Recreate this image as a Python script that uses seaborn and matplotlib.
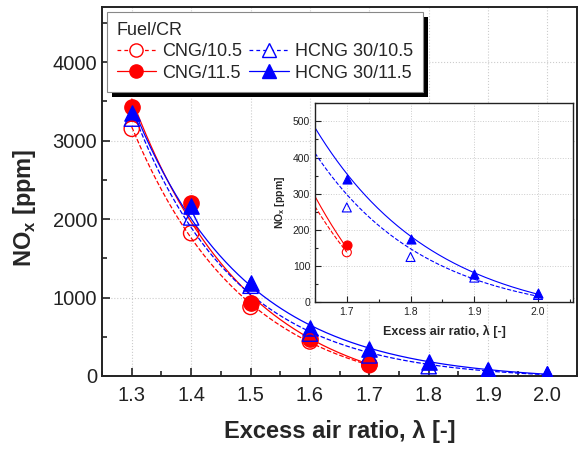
import numpy as np
import pandas as pd
import matplotlib
matplotlib.use("Agg")
import matplotlib.pyplot as plt
import matplotlib.patheffects as pe
from matplotlib.lines import Line2D
from matplotlib.ticker import MultipleLocator
import seaborn as sns

# Excess air ratio (lambda) and measured NOx [ppm]
lam_cng = [1.3, 1.4, 1.5, 1.6, 1.7]
lam_hcng = [1.3, 1.4, 1.5, 1.6, 1.7, 1.8, 1.9, 2.0]
nox_cng_105 = [3150, 1820, 880, 440, 138]
nox_cng_115 = [3430, 2210, 930, 470, 157]
nox_hcng_105 = [3280, 2020, 1150, 540, 262, 125, 68, 20]
nox_hcng_115 = [3350, 2160, 1180, 614, 340, 175, 78, 25]

series_names = ["CNG/10.5", "CNG/11.5", "HCNG 30/10.5", "HCNG 30/11.5"]
x_ticks_main = [1.3, 1.4, 1.5, 1.6, 1.7, 1.8, 1.9, 2.0]
y_ticks_main = [0, 1000, 2000, 3000, 4000]

sns.set_theme(style="ticks")
plt.rcParams["font.family"] = ["Liberation Sans", "DejaVu Sans"]
plt.rcParams["mathtext.fontset"] = "custom"
plt.rcParams["mathtext.rm"] = "Liberation Sans"
plt.rcParams["mathtext.bf"] = "Liberation Sans:bold"

RED = "#ff0000"
BLUE = "#0000ff"

df = pd.concat([
    pd.DataFrame({"lam": lam_cng, "nox": nox_cng_105, "series": series_names[0]}),
    pd.DataFrame({"lam": lam_cng, "nox": nox_cng_115, "series": series_names[1]}),
    pd.DataFrame({"lam": lam_hcng, "nox": nox_hcng_105, "series": series_names[2]}),
    pd.DataFrame({"lam": lam_hcng, "nox": nox_hcng_115, "series": series_names[3]}),
], ignore_index=True)

style = {
    series_names[0]: dict(color=RED, ls="--", marker="o", filled=False),
    series_names[1]: dict(color=RED, ls="-", marker="o", filled=True),
    series_names[2]: dict(color=BLUE, ls="--", marker="^", filled=False),
    series_names[3]: dict(color=BLUE, ls="-", marker="^", filled=True),
}


def exp_fit(x, y, power=0.5):
    """Exponential decay y = A*exp(-b*(x-1.3)) + c; scan over b, weighted
    linear least squares (weights y**-power) for A and c."""
    x = np.asarray(x, float)
    y = np.asarray(y, float)
    w = y ** -power
    best = None
    for b in np.linspace(1.0, 30.0, 2901):
        e = np.exp(-b * (x - 1.3))
        M = np.column_stack([e, np.ones_like(x)])
        coef, *_ = np.linalg.lstsq(M * w[:, None], y * w, rcond=None)
        err = np.sum(((M @ coef - y) * w) ** 2)
        if best is None or err < best[0]:
            best = (err, b, coef)
    _, b, (A, c) = best
    return lambda t: A * np.exp(-b * (np.asarray(t) - 1.3)) + c


fits = {}
for name in series_names:
    sub = df[df.series == name]
    fits[name] = exp_fit(sub.lam, sub.nox)


def draw(ax, x_start, msize, lw, mew):
    for name in series_names:
        sub = df[df.series == name]
        st = style[name]
        xs = np.linspace(x_start, sub.lam.max(), 200)
        curve = pd.DataFrame({"lam": xs, "nox": fits[name](xs)})
        sns.lineplot(data=curve, x="lam", y="nox", ax=ax, color=st["color"],
                     linestyle=st["ls"], linewidth=lw, zorder=2)
    for name in series_names:
        sub = df[df.series == name]
        st = style[name]
        sns.scatterplot(data=sub, x="lam", y="nox", ax=ax, marker=st["marker"],
                        s=msize ** 2,
                        facecolor=st["color"] if st["filled"] else "none",
                        edgecolor=st["color"], linewidth=mew,
                        zorder=3 if st["filled"] else 4)


fig = plt.figure(figsize=(5.8, 4.49), dpi=100)
ax = fig.add_axes([0.176, 0.1626, 0.819, 0.8214])
draw(ax, 1.3, 11, 0.9, 1.0)

ax.set_xlim(1.25, 2.05)
ax.set_ylim(0, 4700)
ax.set_xticks(x_ticks_main)
ax.set_xticklabels([f"{v:.1f}" for v in x_ticks_main])
ax.set_yticks(y_ticks_main)
ax.xaxis.set_minor_locator(MultipleLocator(0.05))
ax.yaxis.set_minor_locator(MultipleLocator(500))
ax.tick_params(which="both", direction="in", top=False, right=False,
               labelsize=14.5, colors="#222222", width=1.2)
ax.tick_params(axis="x", which="major", pad=7)
ax.tick_params(which="major", length=6)
ax.tick_params(which="minor", length=3.5)
ax.grid(True, which="major", color="#cccccc", linestyle=":", linewidth=0.8)
for sp in ax.spines.values():
    sp.set_linewidth(1.4)
    sp.set_color("#222222")
ax.set_xlabel("Excess air ratio, λ [-]", fontsize=17, fontweight="bold", labelpad=11)
ax.set_ylabel(r"NO$_\mathbf{x}$ [ppm]", fontsize=17, fontweight="bold")
ax.yaxis.set_label_coords(-0.135, 0.455)

handles = []
for name in series_names:
    st = style[name]
    handles.append(Line2D([], [], color=st["color"], linestyle=st["ls"], linewidth=0.9,
                          dashes=(3, 2.5) if st["ls"] == "--" else (None, None),
                          marker=st["marker"], markersize=9.5,
                          markerfacecolor=st["color"] if st["filled"] else "white",
                          markeredgecolor=st["color"]))
leg = ax.legend(handles, series_names, title="Fuel/CR", ncol=2, loc="upper left",
                bbox_to_anchor=(0.0, 1.0), fontsize=13, title_fontsize=13,
                handlelength=2.2, handletextpad=0.35, columnspacing=0.35,
                labelspacing=0.25, borderaxespad=0.25, borderpad=0.55,
                fancybox=False, framealpha=1, alignment="left")
frame = leg.get_frame()
frame.set_edgecolor("#888888")
frame.set_linewidth(0.8)
frame.set_path_effects([pe.SimplePatchShadow(offset=(3.6, -3.6), shadow_rgbFace="black", alpha=1),
                        pe.Normal()])

# Inset: low-NOx region at lean conditions
axi = fig.add_axes([0.543, 0.327, 0.445, 0.443])
draw(axi, 1.65, 6.5, 0.8, 0.8)
axi.set_xlim(1.65, 2.055)
axi.set_ylim(0, 550)
axi.set_xticks([1.7, 1.8, 1.9, 2.0])
axi.set_xticklabels(["1.7", "1.8", "1.9", "2.0"])
axi.set_yticks([0, 100, 200, 300, 400, 500])
axi.xaxis.set_minor_locator(MultipleLocator(0.05))
axi.yaxis.set_minor_locator(MultipleLocator(50))
axi.tick_params(which="both", direction="in", top=False, right=False,
                labelsize=7.5, colors="#222222", width=0.8)
axi.tick_params(which="major", length=4)
axi.tick_params(which="minor", length=2.5)
axi.grid(True, which="major", color="#cccccc", linestyle=":", linewidth=0.7)
for sp in axi.spines.values():
    sp.set_linewidth(1.0)
    sp.set_color("#222222")
axi.set_xlabel("Excess air ratio, λ [-]", fontsize=9, fontweight="bold", labelpad=6)
axi.set_ylabel(r"NO$_\mathbf{x}$ [ppm]", fontsize=7.5, fontweight="bold", labelpad=4)

fig.savefig("out.png", dpi=100)
